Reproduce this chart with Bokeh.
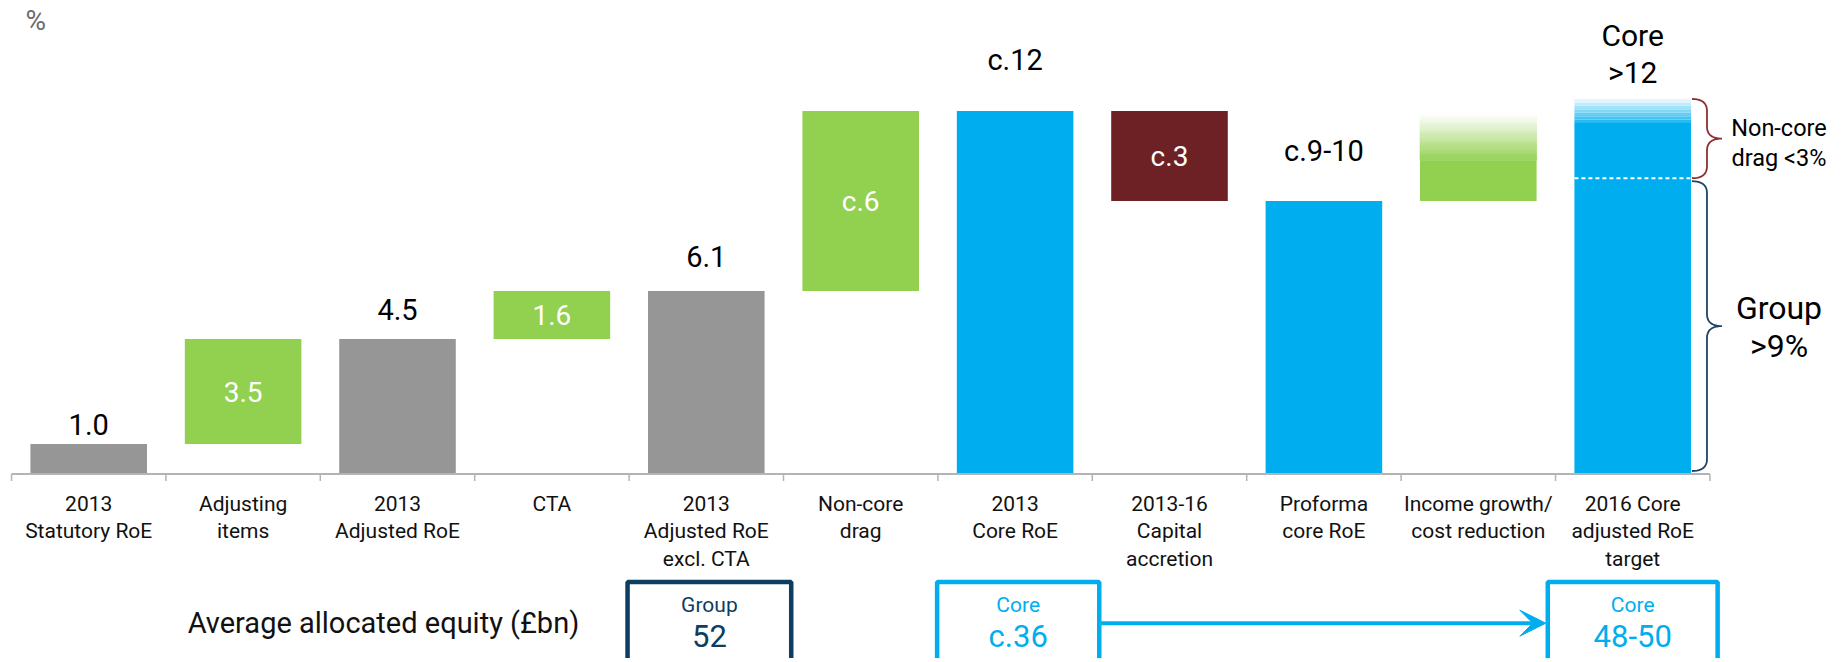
import numpy as np
from bokeh.plotting import figure
from bokeh.models import Range1d, Arrow, VeeHead
from bokeh.core.properties import value
from bokeh.embed import file_html
from bokeh.resources import INLINE

# ---------------- data ----------------
categories = ["2013\nStatutory RoE", "Adjusting\nitems", "2013\nAdjusted RoE", "CTA",
              "2013\nAdjusted RoE\nexcl. CTA", "Non-core\ndrag", "2013\nCore RoE",
              "2013-16\nCapital\naccretion", "Proforma\ncore RoE",
              "Income growth/\ncost reduction", "2016 Core\nadjusted RoE\ntarget"]
bar_bottom = [0.0, 1.0, 0.0, 4.5, 0.0, 6.1, 0.0, 9.1, 0.0, 9.1, 0.0]
bar_top = [1.0, 4.5, 4.5, 6.1, 6.1, 12.1, 12.1, 12.1, 9.1, 12.0, 12.5]
bar_kind = ["total", "up", "total", "up", "total", "up", "core", "down", "core", "fade", "target"]
value_labels = ["1.0", "3.5", "4.5", "1.6", "6.1", "c.6", "c.12", "c.3", "c.9-10", "", "Core\n>12"]
label_inside = [False, True, False, True, False, True, False, True, False, False, False]

income_solid_top = 10.45   # where the income-growth bar stops being solid
target_solid_top = 11.7    # where the 2016 target bar stops being solid
group_level = 9.86         # Group >9% level on the target bar

equity_title = "Average allocated equity (£bn)"
equity_cat = [4, 6, 10]
equity_head = ["Group", "Core", "Core"]
equity_value = ["52", "c.36", "48-50"]

# ---------------- style ----------------
FONT = "Roboto"
C_GRAY = "#969696"
C_GREEN = "#92D050"
C_BLUE = "#00AEEF"
C_RED = "#6D2124"
C_NAVY = "#0D3D61"
C_AXIS = "#b4b4b4"
kind_color = {"total": C_GRAY, "up": C_GREEN, "core": C_BLUE, "down": C_RED}
label_gap_px = [19.5, 0, 29.5, 0, 35, 0, 51, 0, 50, 0, 27]

W, H = 1840, 658
X0 = -0.5 - 11 / 154.4
X1 = X0 + W / 154.4
Y1 = 473.5 / 30.0
Y0 = Y1 - H / 30.0
PX_PER_Y = H / (Y1 - Y0)
PX_PER_X = W / (X1 - X0)


def dy(px):
    return px / PX_PER_Y


def dx(px):
    return px / PX_PER_X


def mix(hex_col, t):
    """blend colour with white; t=1 -> colour, t=0 -> white"""
    r, g, b = int(hex_col[1:3], 16), int(hex_col[3:5], 16), int(hex_col[5:7], 16)
    r = round(255 + (r - 255) * t); g = round(255 + (g - 255) * t); b = round(255 + (b - 255) * t)
    return "#%02x%02x%02x" % (r, g, b)


p = figure(width=W, height=H, x_range=Range1d(X0, X1), y_range=Range1d(Y0, Y1),
           output_backend="svg", toolbar_location=None, min_border=0,
           x_axis_location=None, y_axis_location=None)
p.grid.visible = False
p.outline_line_color = None
p.background_fill_color = "white"

n = len(categories)
BW = 0.755

# solid bars
sx, sb, st, sc = [], [], [], []
for i in range(n):
    k = bar_kind[i]
    if k in kind_color:
        sx.append(i); sb.append(bar_bottom[i]); st.append(bar_top[i]); sc.append(kind_color[k])
    elif k == "fade":
        sx.append(i); sb.append(bar_bottom[i]); st.append(income_solid_top); sc.append(C_GREEN)
    elif k == "target":
        sx.append(i); sb.append(bar_bottom[i]); st.append(target_solid_top); sc.append(C_BLUE)
p.vbar(x=sx, bottom=sb, top=st, width=BW, fill_color=sc, line_color=None)

# gradient parts
for i in range(n):
    if bar_kind[i] == "fade":
        m = 42
        edges = np.linspace(income_solid_top, bar_top[i], m + 1)
        cols = [mix(C_GREEN, 1 - (j + 0.5) / m) for j in range(m)]
        p.vbar(x=[i] * m, bottom=edges[:-1], top=edges[1:], width=BW,
               fill_color=cols, line_color=cols, line_width=0.6)
    if bar_kind[i] == "target":
        m = 7
        edges = np.linspace(target_solid_top, bar_top[i], m + 1)
        cols = [mix(C_BLUE, t) for t in np.linspace(0.85, 0.12, m)]
        p.vbar(x=[i] * m, bottom=edges[:-1], top=edges[1:], width=BW,
               fill_color=cols, line_color=None)
        p.segment(x0=[i - BW / 2], x1=[i + BW / 2], y0=[group_level], y1=[group_level],
                  line_color="white", line_width=2, line_dash="4 3")

# axis line and ticks
p.segment(x0=[-0.5], x1=[n - 0.5], y0=[0], y1=[0], line_color=C_AXIS, line_width=2)
tx = [i - 0.5 for i in range(n + 1)]
p.segment(x0=tx, x1=tx, y0=[0] * len(tx), y1=[-dy(7)] * len(tx), line_color=C_AXIS, line_width=1.5)

# category labels
lx, ly, lt = [], [], []
for i, c in enumerate(categories):
    for j, line in enumerate(c.split("\n")):
        lx.append(i); ly.append(-dy(29.8 + 27.5 * j)); lt.append(line)
p.text(x=lx, y=ly, text=lt, text_font=value(FONT), text_font_size="21px",
       text_align="center", text_baseline="middle", text_color="#111111")

# value labels
vx, vy, vt, vc, vs = [], [], [], [], []
for i in range(n):
    if not value_labels[i]:
        continue
    if label_inside[i]:
        vx.append(i); vy.append((bar_top[i] + bar_bottom[i]) / 2); vt.append(value_labels[i])
        vc.append("white"); vs.append("28px")
    else:
        lines = value_labels[i].split("\n")
        for j, line in enumerate(reversed(lines)):
            vx.append(i); vy.append(bar_top[i] + dy(label_gap_px[i] + 37 * j)); vt.append(line)
            vc.append("black"); vs.append("30px" if len(lines) > 1 else "29px")
p.text(x=vx, y=vy, text=vt, text_color=vc, text_font=value(FONT), text_font_size=vs,
       text_align="center", text_baseline="middle")

# percent sign
p.text(x=[-0.3435], y=[Y1 - dy(20)], text=["%"], text_font=value(FONT), text_font_size="28px",
       text_align="center", text_baseline="middle", text_color="#6b6b6b")


# braces
def brace(xa, xb, xc, ytop, ybot, r):
    ym = (ytop + ybot) / 2
    t = np.linspace(0, 1, 12)

    def qb(p0, p1, p2):
        return ((1 - t) ** 2)[:, None] * np.array(p0) + (2 * (1 - t) * t)[:, None] * np.array(p1) + (t ** 2)[:, None] * np.array(p2)
    pts = [qb((xa, ytop), (xb, ytop), (xb, ytop - r)),
           qb((xb, ym + r), (xb, ym), (xc, ym)),
           qb((xc, ym), (xb, ym), (xb, ym - r)),
           qb((xb, ybot + r), (xb, ybot), (xa, ybot))]
    allp = np.vstack(pts)
    return allp[:, 0], allp[:, 1]


last = n - 1
xa = last + BW / 2 + dx(1)
xb = last + BW / 2 + dx(16)
xc = last + BW / 2 + dx(31)
bx, by = brace(xa, xb, xc, bar_top[last], group_level, dy(12))
p.line(bx, by, line_color="#8B2F33", line_width=1.8)
bx, by = brace(xa, xb, xc, group_level - dy(3), bar_bottom[last] + dy(3), dy(12))
p.line(bx, by, line_color="#1F4466", line_width=1.8)

tx_right = last + BW / 2 + dx(88)
p.text(x=[tx_right, tx_right], y=[11.52, 10.52], text=["Non-core", "drag <3%"],
       text_font=value(FONT), text_font_size="23.5px", text_align="center", text_baseline="middle")
p.text(x=[tx_right, tx_right], y=[5.52, 4.28], text=["Group", ">9%"],
       text_font=value(FONT), text_font_size="32px", text_align="center", text_baseline="middle")

# equity boxes
box_w = [1.06, 1.05, 1.10]
box_col = [C_NAVY, C_BLUE, C_BLUE]
box_top = -dy(108)
ecx = [c + 0.02 if c != 10 else c for c in equity_cat]
p.quad(left=[c - w / 2 for c, w in zip(ecx, box_w)], right=[c + w / 2 for c, w in zip(ecx, box_w)],
       top=[box_top] * 3, bottom=[Y0 - 2] * 3, fill_color=None, line_color=box_col, line_width=4.5)
p.text(x=ecx, y=[-dy(131)] * 3, text=equity_head, text_color=box_col, text_font=value(FONT),
       text_font_size="21px", text_align="center", text_baseline="middle")
p.text(x=ecx, y=[-dy(162)] * 3, text=equity_value, text_color=box_col, text_font=value(FONT),
       text_font_size="31px", text_align="center", text_baseline="middle")
arrow_y = -dy(149.2)
p.add_layout(Arrow(end=VeeHead(size=26, fill_color=C_BLUE, line_color=C_BLUE, line_width=1),
                   x_start=ecx[1] + box_w[1] / 2, y_start=arrow_y,
                   x_end=ecx[2] - box_w[2] / 2 - dx(2), y_end=arrow_y,
                   line_color=C_BLUE, line_width=4))
p.text(x=[1.909], y=[arrow_y], text=[equity_title], text_font=value(FONT), text_font_size="29px",
       text_align="center", text_baseline="middle", text_color="#111111")

open("out.html", "w").write(file_html(p, INLINE))
